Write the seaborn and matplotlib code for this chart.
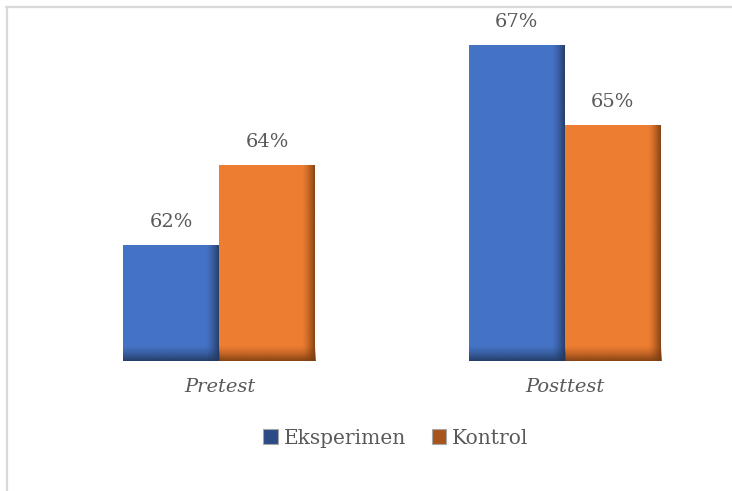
import numpy as np
import pandas as pd
import matplotlib
matplotlib.use("Agg")
import matplotlib.pyplot as plt
import seaborn as sns
from matplotlib.patches import Patch
from matplotlib.colors import to_rgb
from matplotlib.lines import Line2D

# Data
tests = ["Pretest", "Posttest"]
groups = ["Eksperimen", "Kontrol"]
eksperimen = [62, 67]
kontrol = [64, 65]

colors = {"Eksperimen": "#4472C4", "Kontrol": "#ED7D31"}
shade = {"Eksperimen": "#22385f", "Kontrol": "#7a3d12"}
legend_fill = {"Eksperimen": "#2c4a85", "Kontrol": "#a9541c"}
text_col = "#595959"

df = pd.DataFrame({
    "test": tests * 2,
    "group": [groups[0]] * 2 + [groups[1]] * 2,
    "value": eksperimen + kontrol,
})

sns.set_theme(style="white")
plt.rcParams["font.family"] = ["DejaVu Serif"]

W, H = 732, 491
fig = plt.figure(figsize=(W / 100, H / 100), dpi=100)
ax_left, ax_right = 81.3, 703.0
ax_bottom, ax_top = 361.0, 21.0
ax = fig.add_axes([ax_left / W, 1 - ax_bottom / H,
                   (ax_right - ax_left) / W, (ax_bottom - ax_top) / H])

sns.barplot(data=df, x="test", y="value", hue="group", order=tests,
            hue_order=groups, palette=colors, width=0.556, ax=ax,
            saturation=1, legend=False, edgecolor="none", linewidth=0)

ymin = 59.1
ax.set_ylim(ymin, ymin + (ax_bottom - ax_top) / 40.0)
ax.set_xlim(-0.4, 1.4)

# Soft darker edges along the right side and bottom of each bar
px_x = 1.8 / (ax_right - ax_left)
px_y = 1 / 40.0
n = 64
for container, g in zip(ax.containers, groups):
    dark = to_rgb(shade[g])
    for bar in container:
        x0, w = bar.get_x(), bar.get_width()
        top = bar.get_y() + bar.get_height()
        y0 = ymin
        # right edge gradient
        grad = np.zeros((1, n, 4))
        grad[..., :3] = dark
        grad[0, :, 3] = np.linspace(0, 1, n) ** 1.4 * 0.9
        sw = 13 * px_x
        im = ax.imshow(grad, extent=[x0 + w - sw, x0 + w, y0, top],
                       aspect="auto", interpolation="bilinear", zorder=3)
        im.set_clip_path(bar)
        # bottom gradient
        gradb = np.zeros((n, 1, 4))
        gradb[..., :3] = dark
        gradb[:, 0, 3] = np.linspace(0, 1, n) ** 1.4 * 0.9
        sh = 16 * px_y
        im2 = ax.imshow(gradb, extent=[x0, x0 + w, y0, y0 + sh],
                        aspect="auto", interpolation="bilinear", zorder=3)
        im2.set_clip_path(bar)
        ax.text(x0 + w / 2, top + 23 * px_y, f"{int(round(top))}%",
                ha="center", va="center", fontsize=14, color=text_col)

ax.set_xlabel("")
ax.set_ylabel("")
ax.set_yticks([])
ax.set_xticks(range(len(tests)))
ax.set_xticklabels(tests, fontstyle="italic", fontsize=14, color=text_col)
ax.tick_params(axis="x", length=0, pad=12)
for s in ax.spines.values():
    s.set_visible(False)

handles = [Patch(facecolor=legend_fill[g], edgecolor="#a6a6a6", linewidth=0.8)
           for g in groups]
fig.legend(handles, groups, loc="center", bbox_to_anchor=(396 / W, 1 - 438 / H),
           ncol=2, frameon=False, fontsize=14.5, handlelength=0.7,
           handleheight=0.7, handletextpad=0.3, columnspacing=1.3,
           labelcolor=text_col)

# chart frame (top and left edges)
fig.add_artist(Line2D([6 / W, 1], [1 - 6.5 / H, 1 - 6.5 / H],
                      color="#d9d9d9", lw=1.6, transform=fig.transFigure))
fig.add_artist(Line2D([6.5 / W, 6.5 / W], [0, 1 - 6.5 / H],
                      color="#d9d9d9", lw=1.6, transform=fig.transFigure))

fig.savefig("out.png", dpi=100)
